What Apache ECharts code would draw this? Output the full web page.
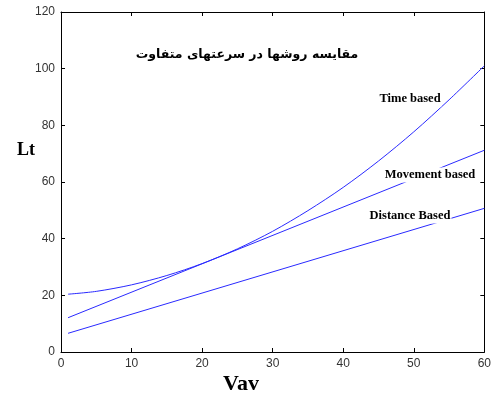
<!DOCTYPE html>
<html>
<head>
<meta charset="utf-8">
<script src="https://cdn.jsdelivr.net/npm/echarts@6/dist/echarts.min.js"></script>
<style>
html,body{margin:0;padding:0;background:#fff;}
#c{width:494px;height:394px;}
</style>
</head>
<body>
<div id="c"></div>
<script>
// Data
const timeX = [1, 5, 10, 15, 20, 25, 30, 35, 40, 45, 50, 55, 60];
const timeY = [20.4, 21.4, 23.7, 27.0, 31.2, 36.4, 42.6, 49.9, 58.1, 67.4, 77.7, 89.0, 101.0];
const moveX = [1, 60];
const moveY = [12.1, 71.2];
const distX = [1, 60];
const distY = [6.6, 50.7];
const xTicks = [0, 10, 20, 30, 40, 50, 60];
const yTicks = [0, 20, 40, 60, 80, 100, 120];
const titleText = 'مقایسه روشها در سرعتهای متفاوت';
const xName = 'Vav';
const yName = 'Lt';
const seriesNames = ['Time based', 'Movement based', 'Distance Based'];

const pair = (xs, ys) => xs.map((x, i) => [x, ys[i]]);
const lineColor = '#2a2aff';
const axisCommon = {
  type: 'value',
  axisLine: { show: true, onZero: false, lineStyle: { color: '#000', width: 1 } },
  axisTick: { show: true, inside: true, length: 4, lineStyle: { color: '#000' } },
  splitLine: { show: false }
};
const labelStyle = { color: '#333', fontFamily: 'Liberation Sans', fontSize: 12 };

const chart = echarts.init(document.getElementById('c'), null, { renderer: 'canvas' });
chart.setOption({
  backgroundColor: '#fff',
  animation: false,
  grid: { left: 61, right: 7, top: 12, bottom: 42, containLabel: false },
  xAxis: [
    Object.assign({}, axisCommon, {
      position: 'bottom', min: xTicks[0], max: xTicks[xTicks.length - 1], interval: 10,
      axisLabel: Object.assign({ margin: 6 }, labelStyle)
    }),
    Object.assign({}, axisCommon, {
      position: 'top', min: xTicks[0], max: xTicks[xTicks.length - 1], interval: 10,
      axisLabel: { show: false }
    })
  ],
  yAxis: [
    Object.assign({}, axisCommon, {
      position: 'left', min: yTicks[0], max: yTicks[yTicks.length - 1], interval: 20,
      axisLabel: Object.assign({ margin: 6 }, labelStyle)
    }),
    Object.assign({}, axisCommon, {
      position: 'right', min: yTicks[0], max: yTicks[yTicks.length - 1], interval: 20,
      axisLabel: { show: false }
    })
  ],
  series: [
    { name: seriesNames[0], type: 'line', data: pair(timeX, timeY), smooth: 0.3, showSymbol: false,
      lineStyle: { color: lineColor, width: 1 }, z: 2 },
    { name: seriesNames[1], type: 'line', data: pair(moveX, moveY), showSymbol: false,
      lineStyle: { color: lineColor, width: 1 }, z: 2 },
    { name: seriesNames[2], type: 'line', data: pair(distX, distY), showSymbol: false,
      lineStyle: { color: lineColor, width: 1 }, z: 2 }
  ],
  graphic: [
    { type: 'text', x: 247, y: 55, z: 100,
      style: { text: titleText, font: 'bold 12.5px "DejaVu Sans"', fill: '#000', align: 'center', verticalAlign: 'middle' } },
    { type: 'text', x: 26, y: 150, z: 100,
      style: { text: yName, font: 'bold 18px "Liberation Serif"', fill: '#000', align: 'center', verticalAlign: 'middle' } },
    { type: 'text', x: 241, y: 384, z: 100,
      style: { text: xName, font: 'bold 22px "Liberation Serif"', fill: '#000', align: 'center', verticalAlign: 'middle' } },
    { type: 'text', x: 410, y: 99, z: 100,
      style: { text: seriesNames[0], font: 'bold 12.5px "Liberation Serif"', fill: '#000', align: 'center', verticalAlign: 'middle', backgroundColor: '#fff', padding: [1, 1] } },
    { type: 'text', x: 430, y: 175, z: 100,
      style: { text: seriesNames[1], font: 'bold 12.5px "Liberation Serif"', fill: '#000', align: 'center', verticalAlign: 'middle', backgroundColor: '#fff', padding: [1, 1] } },
    { type: 'text', x: 410, y: 216, z: 100,
      style: { text: seriesNames[2], font: 'bold 12.5px "Liberation Serif"', fill: '#000', align: 'center', verticalAlign: 'middle', backgroundColor: '#fff', padding: [1, 1] } }
  ]
});
</script>
</body>
</html>
